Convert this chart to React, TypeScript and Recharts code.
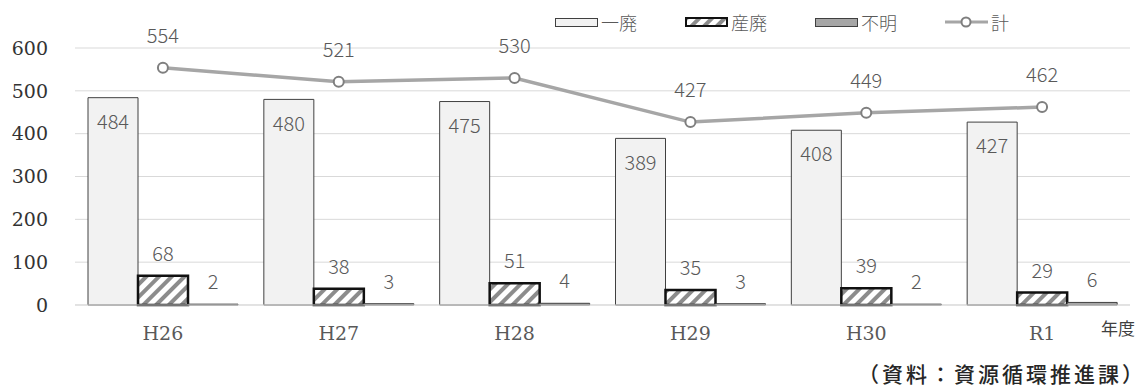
import { ComposedChart, Bar, Line, XAxis, YAxis, CartesianGrid, LabelList } from "recharts";

const years = ["H26", "H27", "H28", "H29", "H30", "R1"];
const ippai = [484, 480, 475, 389, 408, 427];
const sanpai = [68, 38, 51, 35, 39, 29];
const fumei = [2, 3, 4, 3, 2, 6];
const total = [554, 521, 530, 427, 449, 462];
const yTicks = [0, 100, 200, 300, 400, 500, 600];

const data = years.map((y, i) => ({
  year: y,
  ippai: ippai[i],
  sanpai: sanpai[i],
  fumei: fumei[i],
  total: total[i],
}));

const cjk = "'Noto Sans CJK JP', 'Noto Sans', sans-serif";
const serif = "'DejaVu Serif', 'Liberation Serif', serif";
const labelStyle = { fill: "#595959", fontSize: 20, fontFamily: cjk, fontWeight: 300 };

function Legend() {
  const item = (left: number, swatch: React.ReactNode, text: string) => (
    <div style={{ position: "absolute", left, top: 9, display: "flex", alignItems: "center" }}>
      {swatch}
      <span style={{ fontFamily: cjk, fontSize: 18, fontWeight: 300, color: "#595959", marginLeft: 3 }}>{text}</span>
    </div>
  );
  return (
    <>
      {item(555, <div style={{ width: 41, height: 7, background: "#f2f2f2", border: "1px solid #404040" }} />, "一廃")}
      {item(
        685,
        <svg width={43} height={10}>
          <rect x={1} y={1} width={41} height={8} fill="url(#hatch)" stroke="#111" strokeWidth={2} />
        </svg>,
        "産廃"
      )}
      {item(815, <div style={{ width: 41, height: 7, background: "#a6a6a6", border: "1px solid #404040" }} />, "不明")}
      {item(
        945,
        <svg width={43} height={12}>
          <line x1={0} y1={6} x2={43} y2={6} stroke="#a6a6a6" strokeWidth={3} />
          <circle cx={21} cy={6} r={4.5} fill="#fff" stroke="#7f7f7f" strokeWidth={2} />
        </svg>,
        "計"
      )}
    </>
  );
}

export default function App() {
  return (
    <div style={{ position: "absolute", left: 0, top: 0, width: 1148, height: 389, background: "#fff" }}>
      <svg width={0} height={0} style={{ position: "absolute" }}>
        <defs>
          <pattern id="hatch" patternUnits="userSpaceOnUse" width={9} height={9} patternTransform="rotate(45)">
            <rect width={9} height={9} fill="#fff" />
            <rect width={4} height={9} fill="#8c8c8c" />
          </pattern>
        </defs>
      </svg>
      <ComposedChart
        width={1148}
        height={389}
        data={data}
        margin={{ top: 48, right: 18, bottom: 54, left: 0 }}
        barGap={0}
      >
        <CartesianGrid vertical={false} stroke="#d9d9d9" />
        <XAxis
          dataKey="year"
          axisLine={{ stroke: "#d9d9d9" }}
          tickLine={false}
          tickMargin={16}
          tick={{ fill: "#595959", fontSize: 19, fontFamily: serif }}
        />
        <YAxis
          width={75}
          domain={[0, 600]}
          ticks={yTicks}
          axisLine={false}
          tickLine={false}
          tickMargin={21}
          tick={{ fill: "#333333", fontSize: 19, fontFamily: serif }}
        />
        <Bar dataKey="ippai" barSize={50} fill="#f2f2f2" stroke="#404040" strokeWidth={1} isAnimationActive={false}>
          <LabelList dataKey="ippai" position="insideTop" offset={17} style={labelStyle} />
        </Bar>
        <Bar dataKey="sanpai" barSize={50} fill="url(#hatch)" stroke="#111" strokeWidth={2.5} isAnimationActive={false}>
          <LabelList dataKey="sanpai" position="top" offset={15} style={labelStyle} />
        </Bar>
        <Bar dataKey="fumei" barSize={50} fill="#a6a6a6" stroke="#404040" strokeWidth={1} isAnimationActive={false}>
          <LabelList dataKey="fumei" position="top" offset={15} style={labelStyle} />
        </Bar>
        <Line
          dataKey="total"
          stroke="#a6a6a6"
          strokeWidth={3.5}
          dot={{ r: 5, fill: "#fff", stroke: "#7f7f7f", strokeWidth: 2 }}
          isAnimationActive={false}
        >
          <LabelList dataKey="total" position="top" offset={25} style={labelStyle} />
        </Line>
      </ComposedChart>
      <Legend />
      <div style={{ position: "absolute", left: 1101, top: 315, fontFamily: cjk, fontSize: 17, color: "#404040" }}>
        年度
      </div>
      <div
        style={{
          position: "absolute",
          right: 2,
          top: 358,
          fontFamily: cjk,
          fontSize: 21,
          fontWeight: 500,
          letterSpacing: 3,
          color: "#262626",
        }}
      >
        （資料：資源循環推進課）
      </div>
    </div>
  );
}
